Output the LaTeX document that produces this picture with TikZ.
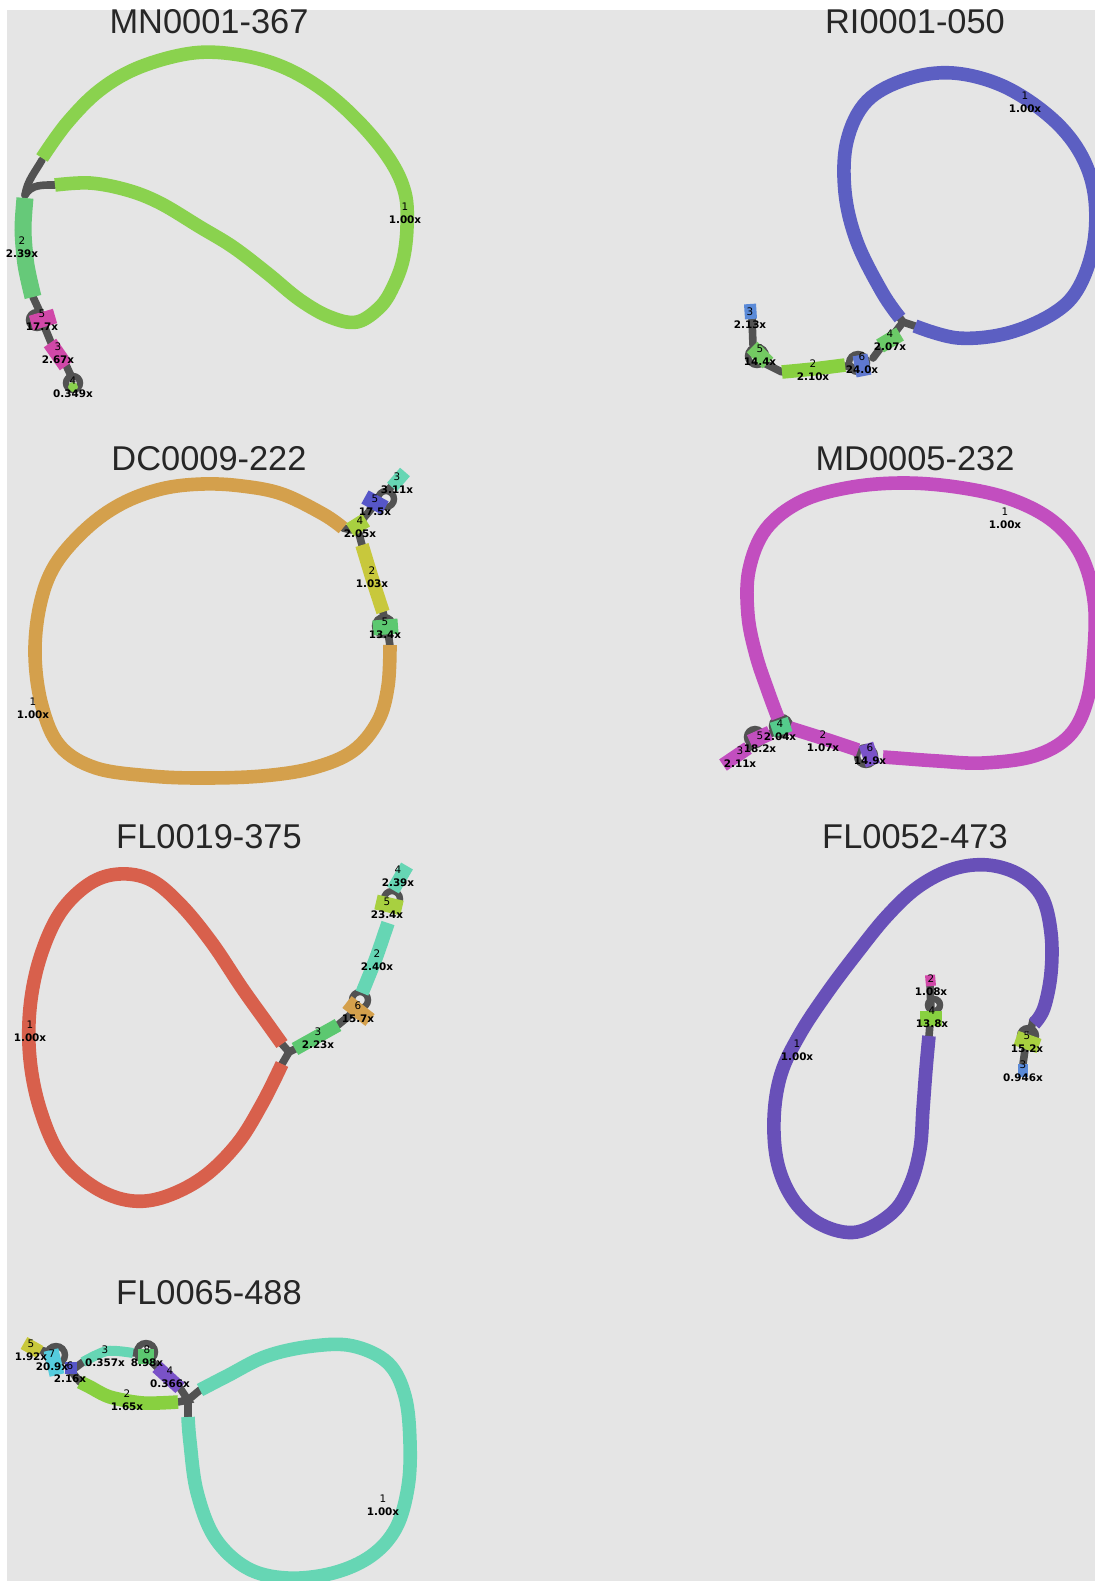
\documentclass[tikz,border=0pt]{standalone}
\usepackage{fontspec}
\setmainfont{Liberation Sans}
\newfontfamily\labfont{DejaVu Sans}
\definecolor{bg}{HTML}{E5E5E5}
\definecolor{lk}{HTML}{525252}
\definecolor{lgreen}{HTML}{8AD24E}
\definecolor{mgreen}{HTML}{66C979}
\definecolor{magen}{HTML}{D048A8}
\definecolor{riblue}{HTML}{5C5FC2}
\definecolor{skyblue}{HTML}{5A8AD8}
\definecolor{blue2}{HTML}{5F78D0}
\definecolor{orng}{HTML}{D4A04C}
\definecolor{ylw}{HTML}{C8C83C}
\definecolor{lime}{HTML}{A8D040}
\definecolor{dblue}{HTML}{5656C8}
\definecolor{teal}{HTML}{66D6B4}
\definecolor{grn}{HTML}{5CC870}
\definecolor{mdmag}{HTML}{C24EBF}
\definecolor{tgreen}{HTML}{55CC8C}
\definecolor{purp}{HTML}{7A52C8}
\definecolor{red1}{HTML}{D8604C}
\definecolor{purp2}{HTML}{6850B8}
\definecolor{cyan1}{HTML}{55CCDD}
\definecolor{ggreen}{HTML}{88D040}
\newcommand{\lb}[2]{#1\\\textbf{#2}}
\begin{document}
\begin{tikzpicture}[x=0.5pt,y=-0.5pt,
  seg/.style={line width=6.8pt,line cap=butt,line join=round},
  bar/.style={line width=7.5pt,line cap=butt},
  lnk/.style={draw=lk,line width=3.8pt,line cap=round},
  lpc/.style={draw=lk,line width=3.2pt},
  lab/.style={font=\labfont\fontsize{5.2}{6.6}\selectfont,align=center,inner sep=0pt,text=black},
  ttl/.style={font=\fontsize{17.2}{19}\selectfont,text=black!85,inner sep=0pt}]
\useasboundingbox (0,0) rectangle (1095,1581);
\fill[bg] (7,10) rectangle (1095,1581);

% ---------------- titles
\node[ttl] (t1) at (209,22) {MN0001-367};
\node[ttl] (t2) at (915,22) {RI0001-050};
\node[ttl] (t3) at (209,459) {DC0009-222};
\node[ttl] (t4) at (915,459) {MD0005-232};
\node[ttl] (t5) at (209,837) {FL0019-375};
\node[ttl] (t6) at (915,837) {FL0052-473};
\node[ttl] (t7) at (209,1293) {FL0065-488};

% ================= MN0001-367
\draw[lnk] (42,160) to[out=240,in=80] (25,195);
\draw[lnk] (55,185) to[out=180,in=60] (25,195);
\draw[lnk] (33,297) -- (40,312);
\draw[lpc] (37,320) circle (8);
\draw[lnk] (45,328) -- (52,345);
\draw[lnk] (66,365) -- (72,378);
\draw[lpc] (73,383) circle (7);
\draw[seg,lgreen] plot[smooth,tension=0.6] coordinates {(42,158) (67,123) (100,90) (140,67) (193,53) (240,55) (283,67) (323,90) (360,123) (390,160) (405,193) (407,227) (403,260) (393,287) (380,307) (357,322) (330,317) (300,300) (267,273) (233,247) (200,227) (160,203) (127,190) (90,183) (55,185)};
\draw[line width=8.5pt,mgreen] plot[smooth] coordinates {(25,198) (23,230) (26,265) (33,297)};
\draw[bar,magen] (31,323) -- (55,316);
\draw[bar,magen] (50,343) -- (66,366);
\fill[lgreen] (73,387) circle (5);
\node[lab] (mn1) at (405,213) {\lb{1}{1.00x}};
\node[lab] (mn2) at (22,247) {\lb{2}{2.39x}};
\node[lab] (mn5) at (42,320) {\lb{5}{17.7x}};
\node[lab] (mn3) at (58,353) {\lb{3}{2.67x}};
\node[lab] (mn4) at (73,387) {\lb{4}{0.349x}};

% ================= RI0001-050
\draw[lnk] (900,318) -- (903,322);
\draw[lnk] (915,326) -- (903,322) -- (893,335);
\draw[lnk] (882,346) -- (873,358);
\draw[lpc] (858,363) circle (9);
\draw[lnk] (852,367) -- (845,366);
\draw[lnk] (782,372) -- (766,364);
\draw[lpc] (757,356) circle (9);
\draw[lnk] (753,345) -- (752,318);
\draw[seg,riblue] plot[smooth,tension=0.6] coordinates {(900,318) (882,292) (857,242) (845,192) (847,141) (867,101) (907,79) (953,73) (1003,86) (1049,116) (1079,151) (1094,192) (1094,242) (1079,287) (1054,313) (1008,333) (958,338) (915,326)};
\draw[bar,grn!80!lime] (880,346) -- (900,334);
\draw[bar,blue2] (860,355) -- (864,376);
\draw[seg,ggreen] plot[smooth] coordinates {(845,365) (813,369) (782,372)};
\draw[bar,grn!70!lime] (752,347) -- (768,363);
\draw[line width=6pt,skyblue] (750,304) -- (751,319);
\node[lab] (ri1) at (1025,102) {\lb{1}{1.00x}};
\node[lab] (ri3) at (750,318) {\lb{3}{2.13x}};
\node[lab] (ri5) at (760,355) {\lb{5}{14.4x}};
\node[lab] (ri2) at (813,370) {\lb{2}{2.10x}};
\node[lab] (ri6) at (862,363) {\lb{6}{24.0x}};
\node[lab] (ri4) at (890,340) {\lb{4}{2.07x}};

% ================= DC0009-222
\draw[lnk] (343,528) -- (352,530);
\draw[lnk] (358,530) -- (362,545);
\draw[lnk] (383,612) -- (385,620);
\draw[lpc] (384,626) circle (9);
\draw[lnk] (388,632) -- (390,646);
\draw[lnk] (362,520) -- (372,508);
\draw[lpc] (386,499) circle (8);
\draw[lnk] (388,490) -- (394,484);
\draw[seg,orng] plot[smooth,tension=0.6] coordinates {(343,528) (323,514) (282,494) (242,486) (202,484) (161,489) (121,504) (86,529) (55,565) (40,605) (35,655) (42,706) (60,746) (96,768) (151,776) (202,778) (262,776) (313,768) (353,751) (378,721) (388,686) (390,645)};
\draw[bar,lime] (350,530) -- (366,520);
\draw[seg,ylw] plot[smooth] coordinates {(362,545) (372,578) (383,612)};
\draw[bar,grn] (373,628) -- (398,626);
\draw[bar,dblue] (365,497) -- (385,508);
\draw[line width=6.5pt,teal] (392,487) -- (405,472);
\node[lab] (dc1) at (33,708) {\lb{1}{1.00x}};
\node[lab] (dc3) at (397,483) {\lb{3}{3.11x}};
\node[lab] (dc6) at (375,505) {\lb{5}{17.5x}};
\node[lab] (dc4) at (360,527) {\lb{4}{2.05x}};
\node[lab] (dc2) at (372,577) {\lb{2}{1.03x}};
\node[lab] (dc5) at (385,628) {\lb{5}{13.4x}};

% ================= MD0005-232
\draw[lpc] (781,726) circle (9);
\draw[lpc] (866,756) circle (9);
\draw[lnk] (772,733) -- (765,737);
\draw[lpc] (755,737) circle (8);
\draw[lnk] (750,746) -- (747,749);
\draw[seg,mdmag] plot[smooth,tension=0.6] coordinates {(778,718) (768,691) (756,655) (748,615) (749,570) (766,529) (802,501) (852,487) (907,483) (963,488) (1013,500) (1054,522) (1081,555) (1094,600) (1094,650) (1087,701) (1069,736) (1034,756) (983,763) (938,761) (897,758) (883,757)};
\draw[seg,mdmag] plot[smooth] coordinates {(790,728) (825,739) (858,750)};
\draw[bar,tgreen] (772,730) -- (790,724);
\draw[bar,purp] (866,744) -- (873,765);
\draw[bar,mdmag] (750,742) -- (770,733);
\draw[seg,mdmag] (748,748) -- (723,765);
\node[lab] (md1) at (1005,518) {\lb{1}{1.00x}};
\node[lab] (md4) at (780,730) {\lb{4}{2.04x}};
\node[lab] (md5) at (760,742) {\lb{5}{18.2x}};
\node[lab] (md3) at (740,757) {\lb{3}{2.11x}};
\node[lab] (md2) at (823,741) {\lb{2}{1.07x}};
\node[lab] (md6) at (870,754) {\lb{6}{14.9x}};

% ================= FL0019-375
\draw[lnk] (282,1044) -- (289,1052) -- (282,1064);
\draw[lnk] (289,1052) -- (295,1049);
\draw[lnk] (338,1025) -- (350,1015);
\draw[lpc] (360,1000) circle (8);
\draw[lpc] (392,899) circle (8);
\draw[seg,red1] plot[smooth,tension=0.6] coordinates {(282,1044) (267,1023) (242,988) (212,943) (181,905) (151,880) (119,874) (89,884) (60,913) (40,958) (30,1008) (30,1059) (40,1109) (60,1155) (91,1185) (126,1200) (161,1198) (202,1178) (237,1144) (262,1104) (282,1064)};
\draw[seg,grn] (295,1049) -- (338,1025);
\draw[bar,orng] (347,1002) -- (370,1020);
\draw[seg,teal] plot[smooth] coordinates {(362,993) (376,958) (388,923)};
\draw[bar,lime] (376,902) -- (402,908);
\draw[seg,teal] (393,890) -- (407,866);
\node[lab] (f11) at (30,1031) {\lb{1}{1.00x}};
\node[lab] (f13) at (318,1038) {\lb{3}{2.23x}};
\node[lab] (f16) at (358,1012) {\lb{6}{15.7x}};
\node[lab] (f12) at (377,960) {\lb{2}{2.40x}};
\node[lab] (f15) at (387,908) {\lb{5}{23.4x}};
\node[lab] (f14) at (398,876) {\lb{4}{2.39x}};

% ================= FL0052-473
\draw[lnk] (930,1024) -- (929,1036);
\draw[lpc] (934,1005) circle (6);
\draw[lnk] (931,1010) -- (930,985);
\draw[lnk] (1033,1020) -- (1030,1034);
\draw[lpc] (1028,1036) circle (8);
\draw[lnk] (1025,1050) -- (1023,1064);
\draw[seg,purp2] plot[smooth,tension=0.6] coordinates {(929,1036) (926,1069) (923,1109) (920,1149) (910,1185) (892,1213) (857,1232) (822,1225) (795,1202) (778,1165) (774,1119) (781,1074) (800,1034) (827,993) (857,953) (887,916) (918,887) (953,869) (988,865) (1020,875) (1042,897) (1051,933) (1051,973) (1044,1008) (1034,1024)};
\draw[bar,ggreen] (920,1018) -- (942,1018);
\draw[line width=5pt,magen] (930,975) -- (931,986);
\draw[bar,lime] (1016,1038) -- (1039,1046);
\draw[line width=5pt,skyblue] (1023,1064) -- (1023,1077);
\node[lab] (f21) at (797,1050) {\lb{1}{1.00x}};
\node[lab] (f22) at (931,985) {\lb{2}{1.08x}};
\node[lab] (f24) at (932,1017) {\lb{4}{13.8x}};
\node[lab] (f25) at (1027,1042) {\lb{5}{15.2x}};
\node[lab] (f23) at (1023,1071) {\lb{3}{0.946x}};

% ================= FL0065-488
\draw[lnk] (200,1390) -- (188,1400) -- (188,1417);
\draw[lnk] (178,1402) -- (188,1400) -- (180,1388);
\draw[lnk] (157,1367) -- (150,1360);
\draw[lpc] (146,1352) circle (9);
\draw[lnk] (133,1353) -- (138,1352);
\draw[lnk] (83,1362) -- (75,1368);
\draw[lnk] (80,1382) -- (72,1372);
\draw[lpc] (56,1355) circle (9);
\draw[lnk] (40,1350) -- (48,1352);
\draw[seg,teal] plot[smooth,tension=0.6] coordinates {(200,1390) (227,1376) (267,1356) (313,1346) (353,1346) (388,1363) (405,1396) (410,1442) (408,1487) (396,1528) (371,1556) (333,1573) (287,1578) (247,1568) (215,1538) (197,1492) (190,1442) (188,1417)};
\draw[seg,ggreen] plot[smooth] coordinates {(178,1402) (143,1403) (110,1397) (90,1387) (80,1382)};
\draw[seg,purp] (157,1367) -- (180,1388);
\draw[bar,grn] (138,1356) -- (154,1356);
\draw[line width=5pt,teal] plot[smooth] coordinates {(133,1353) (107,1351) (83,1362)};
\draw[line width=6pt,dblue] (65,1368) -- (77,1368);
\draw[bar,cyan1] (51,1350) -- (57,1375);
\draw[seg,ylw] (24,1343) -- (40,1352);
\node[lab] (f31) at (383,1505) {\lb{1}{1.00x}};
\node[lab] (f35) at (31,1350) {\lb{5}{1.92x}};
\node[lab] (f37) at (52,1360) {\lb{7}{20.9x}};
\node[lab] (f36) at (70,1372) {\lb{6}{2.16x}};
\node[lab] (f33) at (105,1356) {\lb{3}{0.357x}};
\node[lab] (f38) at (147,1356) {\lb{8}{8.98x}};
\node[lab] (f34) at (170,1377) {\lb{4}{0.366x}};
\node[lab] (f32) at (127,1400) {\lb{2}{1.65x}};
\end{tikzpicture}
\end{document}
